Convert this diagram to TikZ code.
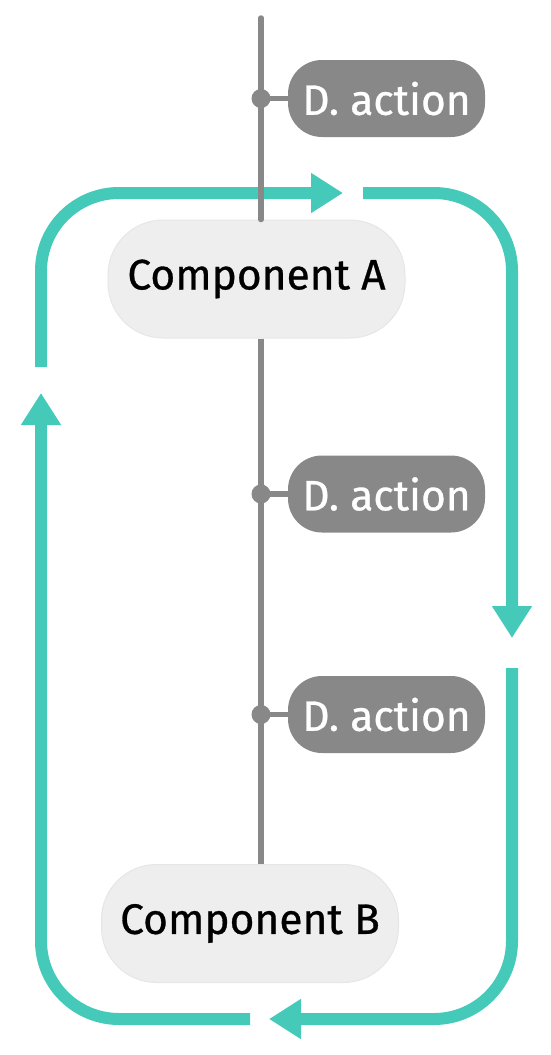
\documentclass[tikz,border=0pt]{standalone}
\usepackage{fontspec}
\setmainfont{Fira Sans}
\newfontfamily\lblfont{Fira Sans}[FakeBold=0.7]
\usetikzlibrary{arrows.meta}
\definecolor{loopteal}{HTML}{45C9B9}
\definecolor{linegray}{HTML}{888888}
\definecolor{compfill}{HTML}{EEEEEE}
\definecolor{compedge}{HTML}{E6E6E6}
\begin{document}
\begin{tikzpicture}[x=1pt,y=-1pt,
  comp/.style={fill=compfill, draw=compedge, line width=1pt, rounded corners=55pt,
    minimum width=297pt, minimum height=118pt, inner sep=0pt, text=black,
    font=\lblfont\fontsize{42.5}{44}\selectfont},
  act/.style={fill=linegray, rounded corners=34pt, minimum width=197pt,
    minimum height=77pt, inner sep=0pt, text=white,
    font=\lblfont\fontsize{42.5}{44}\selectfont},
  loopline/.style={draw=loopteal, line width=12pt, rounded corners=78pt,
    -{Triangle[length=32pt,width=38pt]}},
  gline/.style={draw=linegray, line width=5.5pt},
  gdot/.style={fill=linegray}
]
\useasboundingbox (0,0) rectangle (550,1055);

% teal loop
\coordinate (s1) at (41,367);  \coordinate (e1) at (343,193);
\coordinate (s2) at (363,193); \coordinate (e2) at (512,638);
\coordinate (s3) at (512,668); \coordinate (e3) at (269,1019);
\coordinate (s4) at (250,1019);\coordinate (e4) at (41,393);
\draw[loopline] (s1) |- (e1);
\draw[loopline] (s2) -| (e2);
\draw[loopline] (s3) |- (e3);
\draw[loopline] (s4) -| (e4);

% nodes
\node[comp] (compA) at (256.5,279) {Component A};
\node[comp] (compB) at (250,923.5) {Component B};
\node[act] (act1) at (386.5,98.5) {D. action};
\node[act] (act2) at (386.5,494) {D. action};
\node[act] (act3) at (386.5,714.5) {D. action};

% gray spine
\coordinate (top) at (261,18);
\draw[gline, line cap=round] (top) -- (top |- compA.north);
\draw[gline] (compA.south -| top) -- (compB.north -| top);

% dots and connectors
\foreach \a in {act1,act2,act3}{
  \coordinate (d\a) at (\a.west -| top);
  \draw[gline] (d\a) -- (\a.west);
  \fill[gdot] (d\a) circle (9.5pt);
}
\end{tikzpicture}
\end{document}
